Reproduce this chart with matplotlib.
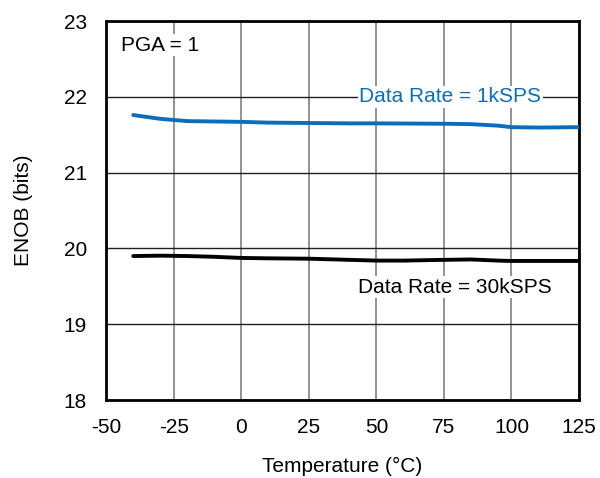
import matplotlib.pyplot as plt
import numpy as np

plt.rcParams['font.family'] = ['Liberation Sans', 'DejaVu Sans']
plt.rcParams['axes.unicode_minus'] = False

temp = [-40, -30, -20, -10, 0, 10, 25, 40, 50, 60, 75, 85, 95, 100, 110, 125]
enob_1k = [21.76, 21.71, 21.68, 21.675, 21.67, 21.66, 21.655, 21.65, 21.65, 21.648, 21.645, 21.64, 21.62, 21.60, 21.595, 21.60]
enob_30k = [19.90, 19.905, 19.90, 19.89, 19.875, 19.87, 19.865, 19.85, 19.84, 19.84, 19.85, 19.855, 19.84, 19.835, 19.835, 19.835]

fs = 15
fig = plt.figure(figsize=(6, 4.78), dpi=100)
ax = fig.add_axes([0.177, 0.163, 0.788, 0.793])

ax.plot(temp, enob_1k, color='#0a6ebd', lw=2.8, solid_capstyle='round', zorder=3)
ax.plot(temp, enob_30k, color='black', lw=2.8, solid_capstyle='round', zorder=3)

ax.set_xlim(-50, 125)
ax.set_ylim(18, 23)
ax.set_xticks(np.arange(-50, 126, 25))
ax.set_yticks(np.arange(18, 24, 1))
ax.xaxis.grid(True, color='#808080', lw=1.2)
ax.yaxis.grid(True, color='#202020', lw=1.0)
ax.set_axisbelow(True)
ax.tick_params(length=0, labelsize=fs)
ax.tick_params(axis='x', pad=13)
ax.tick_params(axis='y', pad=14)
for s in ax.spines.values():
    s.set_linewidth(2)

ax.set_xlabel('Temperature (°C)', fontsize=fs, labelpad=14.5)
ax.set_ylabel('ENOB (bits)', fontsize=fs, labelpad=22)

box = dict(facecolor='white', edgecolor='none', pad=1)
ax.text(-44.5, 22.68, 'PGA = 1', fontsize=fs, ha='left', va='center', bbox=box, zorder=2)
ax.text(77.4, 22.0, 'Data Rate = 1kSPS', fontsize=fs, color='#0a6ebd', ha='center', va='center', bbox=box, zorder=2)
ax.text(79.2, 19.49, 'Data Rate = 30kSPS', fontsize=fs, ha='center', va='center', bbox=box, zorder=2)

fig.savefig('out.png', dpi=100)
